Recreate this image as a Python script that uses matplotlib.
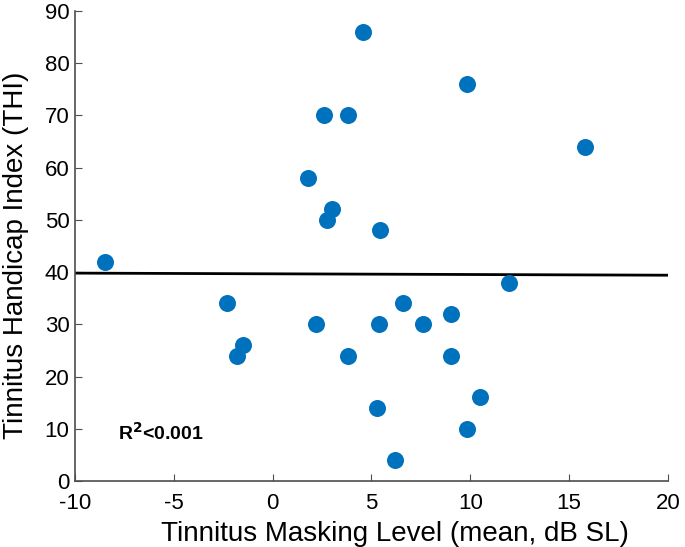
import matplotlib
matplotlib.use("Agg")
import matplotlib.pyplot as plt
import numpy as np

plt.rcParams['font.family'] = ['Liberation Sans', 'DejaVu Sans']

masking = [-8.5, -2.3, -1.8, -1.5, 1.8, 2.2, 2.6, 2.75, 3.0, 3.8, 3.8, 4.55, 5.3, 5.45, 5.4,
           6.2, 6.6, 7.6, 9.05, 9.05, 9.85, 9.85, 10.5, 11.95, 15.8]
thi = [42, 34, 24, 26, 58, 30, 70, 50, 52, 70, 24, 86, 14, 48, 30,
       4, 34, 30, 32, 24, 10, 76, 16, 38, 64]
fit_x = [-10, 20]
fit_y = [39.8, 39.4]
xticks = [-10, -5, 0, 5, 10, 15, 20]
yticks = [0, 10, 20, 30, 40, 50, 60, 70, 80, 90]

fig = plt.figure(figsize=(6.85, 5.47), dpi=100)
ax = fig.add_axes([0.1095, 0.1207, 0.8655, 0.8593])
ax.scatter(masking, thi, s=150, color='#0072BD', zorder=3, linewidths=0)
ax.plot(fit_x, fit_y, color='black', lw=2, zorder=2)
ax.set_xlim(-10, 20)
ax.set_ylim(0, 90)
ax.set_xticks(xticks)
ax.set_yticks(yticks)
ax.set_xticklabels([str(t) for t in xticks])
ax.set_yticklabels([str(t) for t in yticks])
for s in ['top', 'right']:
    ax.spines[s].set_visible(False)
for s in ['left', 'bottom']:
    ax.spines[s].set_color('#4d4d4d')
    ax.spines[s].set_linewidth(1.2)
ax.tick_params(direction='in', length=5, color='#4d4d4d', labelsize=16)
ax.tick_params(axis='x', pad=9)
ax.tick_params(axis='y', pad=4)
ax.set_xlabel('Tinnitus Masking Level (mean, dB SL)', fontsize=20, labelpad=5)
ax.set_ylabel('Tinnitus Handicap Index (THI)', fontsize=20, labelpad=11)
ax.xaxis.label.set_x(0.54)
ax.yaxis.label.set_y(0.481)
ax.text(-7.8, 9.3, r'R$^{\mathbf{2}}$<0.001', fontsize=14, fontweight='bold', va='center', ha='left')
fig.savefig('out.png', dpi=100)
